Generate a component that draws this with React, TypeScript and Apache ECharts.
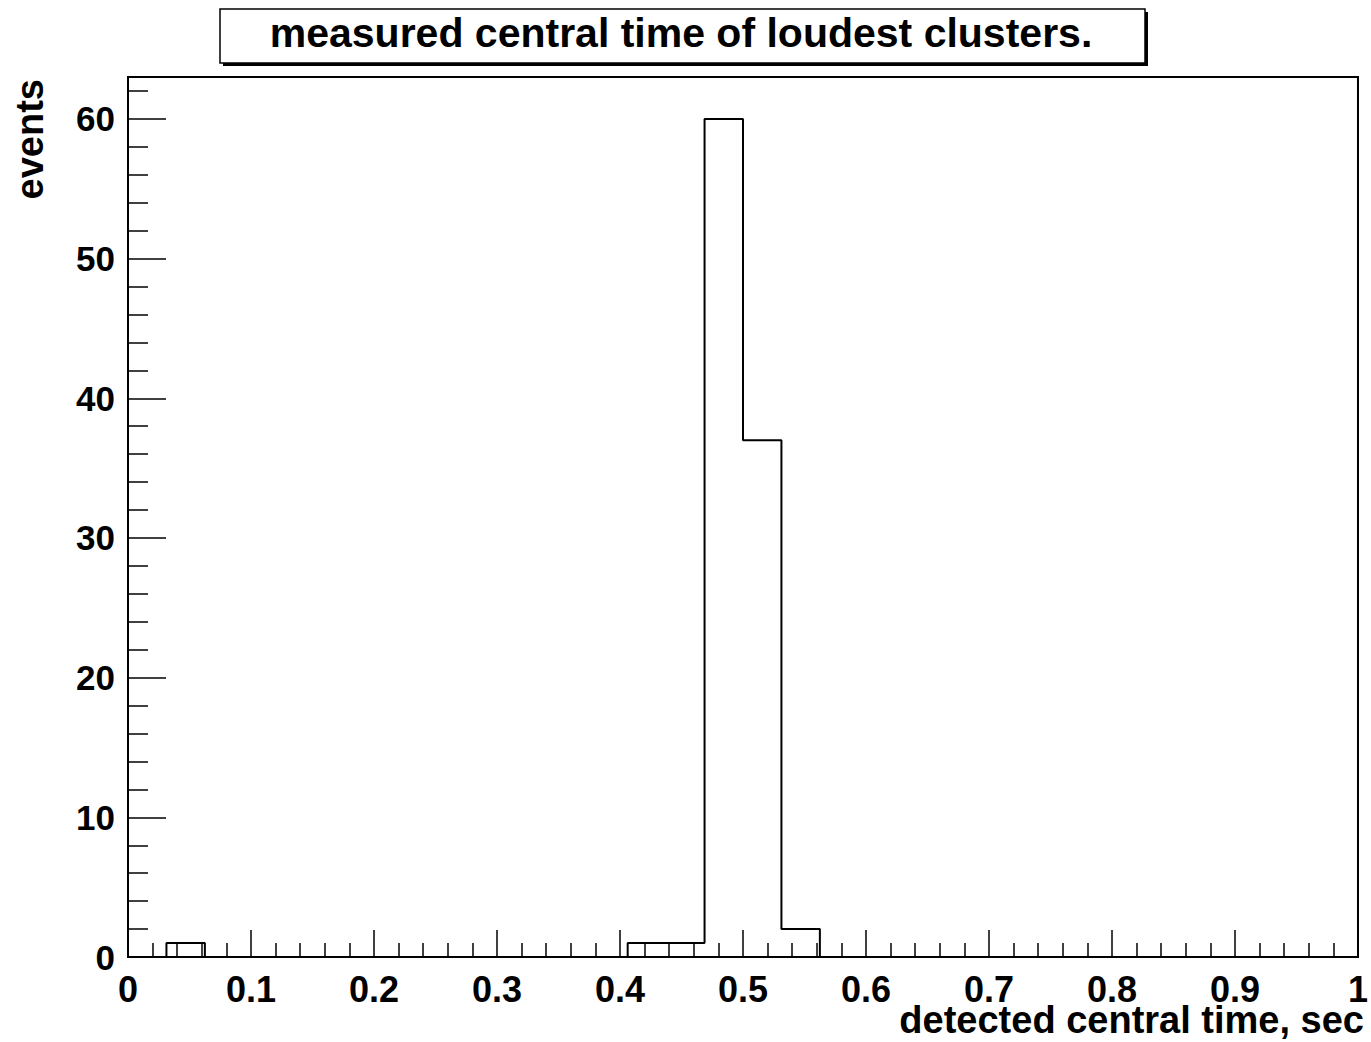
import React, { useEffect, useRef } from "react";
import * as echarts from "echarts";

// ---- data ----
const TITLE = "measured central time of loudest clusters.";
const X_TITLE = "detected central time, sec";
const Y_TITLE = "events";

const BIN_LOW = 0;
const BIN_HIGH = 1;
// 32 bins between 0 and 1
const counts = [
  0, 1, 0, 0, 0, 0, 0, 0,
  0, 0, 0, 0, 0, 1, 1, 60,
  37, 2, 0, 0, 0, 0, 0, 0,
  0, 0, 0, 0, 0, 0, 0, 0,
];

const Y_MAX = 63;
const yMajorTicks = [0, 10, 20, 30, 40, 50, 60];
const yMinorTicks = [
  2, 4, 6, 8, 12, 14, 16, 18, 22, 24, 26, 28, 32, 34, 36, 38,
  42, 44, 46, 48, 52, 54, 56, 58, 62,
];
const X_INTERVAL = 0.1;

const FONT = "'Liberation Sans', Arial, Helvetica, sans-serif";

export default function App() {
  const ref = useRef<HTMLDivElement>(null);

  useEffect(() => {
    if (!ref.current) return;
    const chart = echarts.init(ref.current, undefined, { renderer: "svg" });

    const binWidth = (BIN_HIGH - BIN_LOW) / counts.length;
    const stepData: [number, number][] = counts.map((c, i) => [
      BIN_LOW + i * binWidth,
      c,
    ]);
    stepData.push([BIN_HIGH, counts[counts.length - 1]]);

    const option: any = {
      animation: false,
      backgroundColor: "#fff",
      grid: {
        left: 128,
        right: 9,
        top: 77,
        bottom: 85,
        show: true,
        borderColor: "#000",
        borderWidth: 2,
        backgroundColor: "#fff",
      },
      xAxis: {
        type: "value",
        min: BIN_LOW,
        max: BIN_HIGH,
        interval: X_INTERVAL,
        axisLine: { show: true, lineStyle: { color: "#000", width: 2 } },
        axisTick: {
          show: true,
          inside: true,
          length: 27,
          lineStyle: { color: "#000", width: 1.5 },
        },
        minorTick: {
          show: true,
          splitNumber: 5,
          length: 14,
          lineStyle: { color: "#000", width: 1.5 },
        },
        splitLine: { show: false },
        minorSplitLine: { show: false },
        axisLabel: {
          margin: 17,
          color: "#000",
          fontFamily: FONT,
          fontWeight: "bold",
          fontSize: 36,
          lineHeight: 30,
          showMinLabel: true,
          showMaxLabel: true,
          hideOverlap: false,
          formatter: (v: number) => String(Math.round(v * 10) / 10),
        },
      },
      yAxis: [
        {
          type: "value",
          min: 0,
          max: Y_MAX,
          axisLine: { show: true, lineStyle: { color: "#000", width: 2 } },
          axisTick: {
            show: true,
            inside: true,
            length: 38,
            customValues: yMajorTicks,
            lineStyle: { color: "#000", width: 1.5 },
          },
          axisLabel: {
            show: true,
            customValues: yMajorTicks,
            margin: 13,
            color: "#000",
            fontFamily: FONT,
            fontWeight: "bold",
            fontSize: 35,
          },
          splitLine: { show: false },
        },
        {
          type: "value",
          min: 0,
          max: Y_MAX,
          position: "left",
          offset: 0,
          axisLine: { show: false },
          axisTick: {
            show: true,
            inside: true,
            length: 20,
            customValues: yMinorTicks,
            lineStyle: { color: "#000", width: 1.5 },
          },
          axisLabel: { show: false },
          splitLine: { show: false },
        },
      ],
      series: [
        {
          type: "line",
          data: stepData,
          step: "end",
          symbol: "none",
          yAxisIndex: 0,
          lineStyle: { color: "#000", width: 2 },
          z: 3,
        },
      ],
      graphic: [
        {
          type: "rect",
          shape: { x: 223, y: 12, width: 925, height: 54 },
          style: { fill: "#000" },
          z: 10,
        },
        {
          type: "rect",
          shape: { x: 220, y: 9, width: 925, height: 54 },
          style: { fill: "#fff", stroke: "#000", lineWidth: 1.5 },
          z: 11,
        },
        {
          type: "text",
          x: 681,
          y: 33,
          z: 12,
          style: {
            text: TITLE,
            fill: "#000",
            fontFamily: FONT,
            fontWeight: "bold",
            fontSize: 41,
            align: "center",
            verticalAlign: "middle",
          },
        },
        {
          type: "text",
          x: 1364,
          y: 1020,
          z: 12,
          style: {
            text: X_TITLE,
            fill: "#000",
            fontFamily: FONT,
            fontWeight: "bold",
            fontSize: 38,
            lineHeight: 34,
            align: "right",
            verticalAlign: "middle",
          },
        },
        {
          type: "text",
          x: 30,
          y: 79,
          rotation: Math.PI / 2,
          z: 12,
          style: {
            text: Y_TITLE,
            fill: "#000",
            fontFamily: FONT,
            fontWeight: "bold",
            fontSize: 38,
            align: "right",
            verticalAlign: "middle",
          },
        },
      ],
    };

    chart.setOption(option);
    return () => chart.dispose();
  }, []);

  return (
    <div
      ref={ref}
      style={{
        position: "fixed",
        left: 0,
        top: 0,
        width: 1371,
        height: 1042,
        background: "#fff",
      }}
    />
  );
}
